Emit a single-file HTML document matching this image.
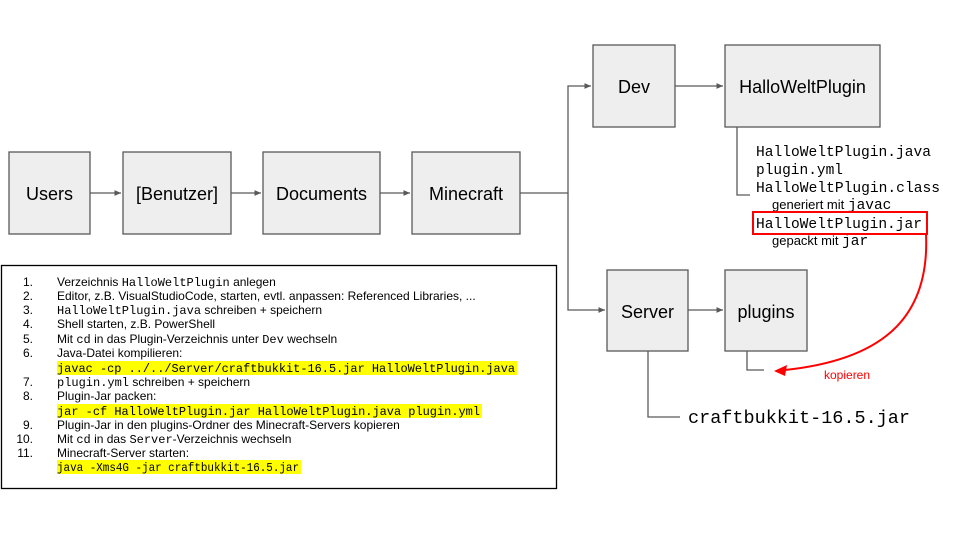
<!DOCTYPE html>
<html><head><meta charset="utf-8"><style>
body{margin:0;background:#fff;width:960px;height:540px;overflow:hidden}
svg{font-family:"Liberation Sans",Arial,sans-serif}
.m{font-family:"Liberation Mono",monospace}
</style></head><body>
<svg width="960" height="540" viewBox="0 0 960 540" xmlns="http://www.w3.org/2000/svg">
<defs><marker id="a" markerWidth="6" markerHeight="6" refX="5" refY="3" orient="auto"><path d="M0,0.8 L5,3 L0,5.2z" fill="#595959"/></marker></defs>
<g fill="#eeeeee" stroke="#595959" stroke-width="1.3">
<rect x="9" y="152" width="81" height="82"/>
<rect x="123" y="152" width="108" height="82"/>
<rect x="263" y="152" width="117" height="82"/>
<rect x="412" y="152" width="108" height="82"/>
<rect x="593" y="45" width="82" height="82"/>
<rect x="725" y="45" width="155" height="82"/>
<rect x="607" y="270" width="81" height="81"/>
<rect x="725" y="270" width="82" height="81"/>
</g>
<g font-size="18" fill="#000" text-anchor="middle">
<text x="49.5" y="200">Users</text>
<text x="177" y="200">[Benutzer]</text>
<text x="321.5" y="200">Documents</text>
<text x="466" y="200">Minecraft</text>
<text x="634" y="93">Dev</text>
<text x="802.5" y="93">HalloWeltPlugin</text>
<text x="647.5" y="318">Server</text>
<text x="766" y="318">plugins</text>
</g>
<g stroke="#595959" stroke-width="1.3" fill="none">
<path d="M90,193H121" marker-end="url(#a)"/>
<path d="M231,193H261" marker-end="url(#a)"/>
<path d="M380,193H410" marker-end="url(#a)"/>
<path d="M520,193H568V86H591" marker-end="url(#a)"/>
<path d="M568,193V310H605" marker-end="url(#a)"/>
<path d="M675,86H723" marker-end="url(#a)"/>
<path d="M688,310H723" marker-end="url(#a)"/>
<path d="M737,127V195H750"/>
<path d="M747,351V370H764"/>
<path d="M648,351V417H680"/>
</g>
<g class="m" font-size="14.5" fill="#000">
<text x="756" y="156" textLength="175" lengthAdjust="spacingAndGlyphs">HalloWeltPlugin.java</text>
<text x="756" y="174" textLength="87" lengthAdjust="spacingAndGlyphs">plugin.yml</text>
<text x="756" y="192" textLength="184" lengthAdjust="spacingAndGlyphs">HalloWeltPlugin.class</text>
<text x="756" y="228" textLength="166" lengthAdjust="spacingAndGlyphs">HalloWeltPlugin.jar</text>
</g>
<text x="772" y="209" font-size="13">generiert mit <tspan class="m" font-size="14.5">javac</tspan></text>
<text x="772" y="245" font-size="13">gepackt mit <tspan class="m" font-size="14.5">jar</tspan></text>
<rect x="753" y="212" width="174" height="22" fill="none" stroke="#f00" stroke-width="2"/>
<path d="M926,234 C930,320 880,360 785,370" fill="none" stroke="#f00" stroke-width="2"/>
<path d="M774,371 L787,365 L785,376z" fill="#f00"/>
<text x="824" y="379" font-size="12" fill="#f00">kopieren</text>
<text class="m" x="688" y="423" font-size="18.5" textLength="222" lengthAdjust="spacingAndGlyphs">craftbukkit-16.5.jar</text>
<rect x="1.5" y="265.5" width="555" height="223" fill="none" stroke="#000" stroke-width="1.3"/>
<g fill="#ffff00">
<rect x="57" y="361" width="460" height="14"/>
<rect x="57" y="404" width="425" height="14"/>
<rect x="57" y="460" width="244" height="14"/>
</g>
<g font-size="12" fill="#000">
<g text-anchor="end">
<text x="33" y="286">1.</text><text x="33" y="300">2.</text><text x="33" y="314">3.</text>
<text x="33" y="328">4.</text><text x="33" y="343">5.</text><text x="33" y="357">6.</text>
<text x="33" y="386">7.</text><text x="33" y="400">8.</text><text x="33" y="429">9.</text>
<text x="33" y="443">10.</text><text x="33" y="457">11.</text>
</g>
<text x="57" y="286">Verzeichnis <tspan class="m" font-size="12">HalloWeltPlugin</tspan> anlegen</text>
<text x="57" y="300">Editor, z.B. VisualStudioCode, starten, evtl. anpassen: Referenced Libraries, ...</text>
<text x="57" y="314"><tspan class="m" font-size="12">HalloWeltPlugin.java</tspan> schreiben + speichern</text>
<text x="57" y="328">Shell starten, z.B. PowerShell</text>
<text x="57" y="343">Mit <tspan class="m" font-size="12">cd</tspan> in das Plugin-Verzeichnis unter <tspan class="m" font-size="12">Dev</tspan> wechseln</text>
<text x="57" y="357">Java-Datei kompilieren:</text>
<text class="m" x="57" y="372" font-size="12" textLength="458" lengthAdjust="spacingAndGlyphs">javac -cp ../../Server/craftbukkit-16.5.jar HalloWeltPlugin.java</text>
<text x="57" y="386"><tspan class="m" font-size="12">plugin.yml</tspan>  schreiben + speichern</text>
<text x="57" y="400">Plugin-Jar packen:</text>
<text class="m" x="57" y="415" font-size="12" textLength="423" lengthAdjust="spacingAndGlyphs">jar -cf HalloWeltPlugin.jar HalloWeltPlugin.java plugin.yml</text>
<text x="57" y="429">Plugin-Jar in den plugins-Ordner des Minecraft-Servers kopieren</text>
<text x="57" y="443">Mit <tspan class="m" font-size="12">cd</tspan> in das <tspan class="m" font-size="12">Server</tspan>-Verzeichnis wechseln</text>
<text x="57" y="457">Minecraft-Server starten:</text>
<text class="m" x="57" y="471" font-size="12" textLength="242" lengthAdjust="spacingAndGlyphs">java -Xms4G -jar craftbukkit-16.5.jar</text>
</g>
</svg>
</body></html>
